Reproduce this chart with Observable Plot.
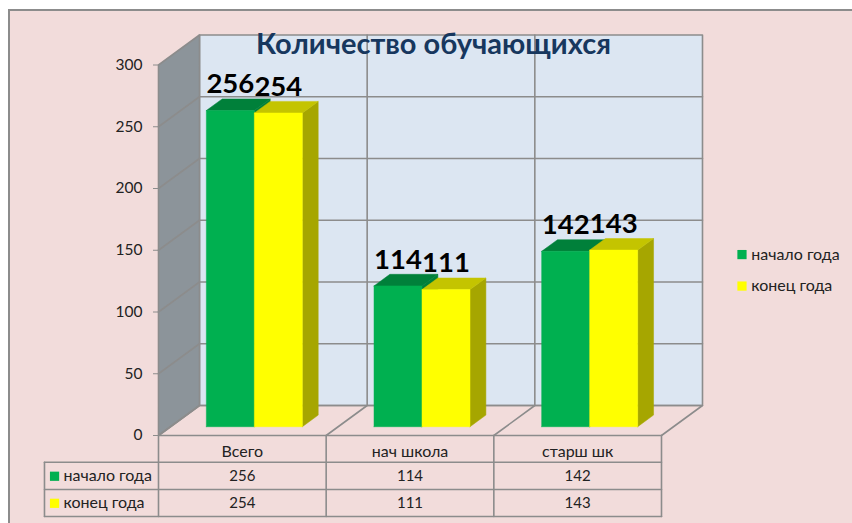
<!DOCTYPE html>
<html lang="ru">
<head>
<meta charset="utf-8">
<script src="https://cdn.jsdelivr.net/npm/d3@7"></script>
<script src="https://cdn.jsdelivr.net/npm/@observablehq/plot@0.6"></script>
<style>
  html, body { margin: 0; padding: 0; background: #fff; overflow: hidden; }
  #panel { position: absolute; left: 8px; top: 9px; right: 0; bottom: 0; background: #F2DCDB;
           border-left: 2px solid #8c8c8c; border-top: 2px solid #8c8c8c; }
  #chart { position: absolute; left: 0; top: 0; }
  #chart svg { display: block; }
</style>
</head>
<body>
<div id="panel"></div>
<div id="chart"></div>
<script>
const chartTitle = "Количество обучающихся";
const categories = ["Всего", "нач школа", "старш шк"];
const seriesNames = ["начало года", "конец года"];
const startOfYear = [256, 114, 142];
const endOfYear = [254, 111, 143];
const yTicks = [0, 50, 100, 150, 200, 250, 300];

const font = "Lato, Carlito, Calibri, sans-serif";
const gray = "#8c8c8c";
const ink = "#222222";
const palette = [
  {front: "#00B050", top: "#00803A", side: "#00803A"},
  {front: "#FFFF00", top: "#C4C400", side: "#A6A600"}
];

// 3D projection expressed in data units of the two scales
const depthX = 0.2445, depthY = 24.3;
const project = (c, v, d) => ({x: c + d * depthX, y: v + d * depthY});
const poly = pts => [...pts, pts[0]];
const face = (pts, fill, stroke = fill, strokeWidth = 0.5) =>
  Plot.line(poly(pts), {x: "x", y: "y", fill, stroke, strokeWidth});
const edge = (pts, strokeWidth = 1.6) =>
  Plot.line(pts, {x: "x", y: "y", stroke: gray, strokeWidth});

const n = categories.length, yMax = yTicks[yTicks.length - 1];
const walls = [
  face([project(0, 0, 1), project(n, 0, 1), project(n, yMax, 1), project(0, yMax, 1)], "#DCE6F2", gray, 1.6),
  face([project(0, 0, 0), project(0, 0, 1), project(0, yMax, 1), project(0, yMax, 0)], "#8C949A", gray, 1.6),
  edge([project(0, 0, 0), project(0, 0, 1), project(n, 0, 1), project(n, 0, 0)])
];
const grid = yTicks.slice(1, -1).map(v => edge([project(0, v, 0), project(0, v, 1), project(n, v, 1)]));
const dividers = d3.range(1, n).map(c => edge([project(c, 0, 0), project(c, 0, 1), project(c, yMax, 1)]));

const barFront = 0.293, barBack = 0.68, barWidth = 0.2863, barGap = (1 - 2 * barWidth) / 2;
const series = [startOfYear, endOfYear];
const bars = [];
const labels = [];
categories.forEach((_, i) => {
  series.forEach((values, s) => {
    const v = values[i], l = i + barGap + s * barWidth, r = l + barWidth, col = palette[s];
    bars.push(
      face([project(r, 0, barFront), project(r, 0, barBack), project(r, v, barBack), project(r, v, barFront)], col.side),
      face([project(l, v, barFront), project(r, v, barFront), project(r, v, barBack), project(l, v, barBack)], col.top),
      face([project(l, 0, barFront), project(r, 0, barFront), project(r, v, barFront), project(l, v, barFront)], col.front)
    );
    labels.push({...project((l + r) / 2, v, barFront), v});
  });
});

// Data table under the chart, in y units below zero
const rowEdges = [0, -21.6, -43.7, -65.6];
const rowMids = [-13.6, -33, -54.9];
const headCol = -0.68;
const tableLines = [
  ...rowEdges.map((e, k) => edge([{x: k === 0 ? 0 : headCol, y: e}, {x: n, y: e}])),
  edge([{x: headCol, y: rowEdges[1]}, {x: headCol, y: rowEdges[3]}]),
  ...d3.range(0, n + 1).map(c => edge([{x: c, y: 0}, {x: c, y: rowEdges[3]}]))
];
const headerCells = categories.map((t, c) => ({x: c + 0.5, y: rowMids[0], t}));
const valueCells = [
  ...startOfYear.map((t, c) => ({x: c + 0.5, y: rowMids[1], t})),
  ...endOfYear.map((t, c) => ({x: c + 0.5, y: rowMids[2], t}))
];
const rowHeads = seriesNames.map((t, s) => ({x: -0.567, y: rowMids[s + 1], t}));
const rowKeys = seriesNames.map((t, s) => ({x: -0.62, y: rowMids[s + 1], fill: palette[s].front}));
const legendItems = seriesNames.map((t, s) => ({x: 3.535, y: [146.5, 121][s], t}));
const legendKeys = seriesNames.map((t, s) => ({x: 3.48, y: [146.5, 121][s], fill: palette[s].front}));

const plot = Plot.plot({
  width: 852, height: 523,
  marginLeft: 158, marginRight: 0, marginTop: 0, marginBottom: 0,
  x: {domain: [0, n], range: [158, 661], axis: null},
  y: {domain: [0, yMax], range: [435, 64.5], axis: null},
  color: {type: "identity"},
  style: {background: "transparent", fontFamily: font, color: ink, overflow: "visible"},
  marks: [
    ...walls, ...grid, ...dividers,
    Plot.axisY({ticks: yTicks, anchor: "left", tickSize: 5, tickPadding: 11, tickFormat: d3.format("d"),
      label: null, stroke: gray, fill: ink, fontSize: 15.5, fontFamily: font}),
    ...bars,
    Plot.text(labels, {x: "x", y: "y", text: "v", dy: -26, fontSize: 27.5, fontWeight: 700, fill: "#000", fontFamily: font}),
    Plot.text([chartTitle], {frameAnchor: "top-left", dx: 275, dy: 44, textAnchor: "middle", lineAnchor: "middle",
      fontSize: 29, fontWeight: 700, fill: "#17375E", fontFamily: font}),
    ...tableLines,
    Plot.text(headerCells, {x: "x", y: "y", text: "t", fontSize: 16, fill: ink, fontFamily: font}),
    Plot.text(valueCells, {x: "x", y: "y", text: "t", fontSize: 15, fill: ink, fontFamily: font}),
    Plot.text(rowHeads, {x: "x", y: "y", text: "t", textAnchor: "start", fontSize: 16, fill: ink, fontFamily: font}),
    Plot.dot(rowKeys, {x: "x", y: "y", fill: "fill", symbol: "square", r: 5.2}),
    Plot.text(legendItems, {x: "x", y: "y", text: "t", textAnchor: "start", fontSize: 16, fill: ink, fontFamily: font}),
    Plot.dot(legendKeys, {x: "x", y: "y", fill: "fill", symbol: "square", r: 5.2})
  ]
});
document.getElementById("chart").appendChild(plot);
</script>
</body>
</html>
